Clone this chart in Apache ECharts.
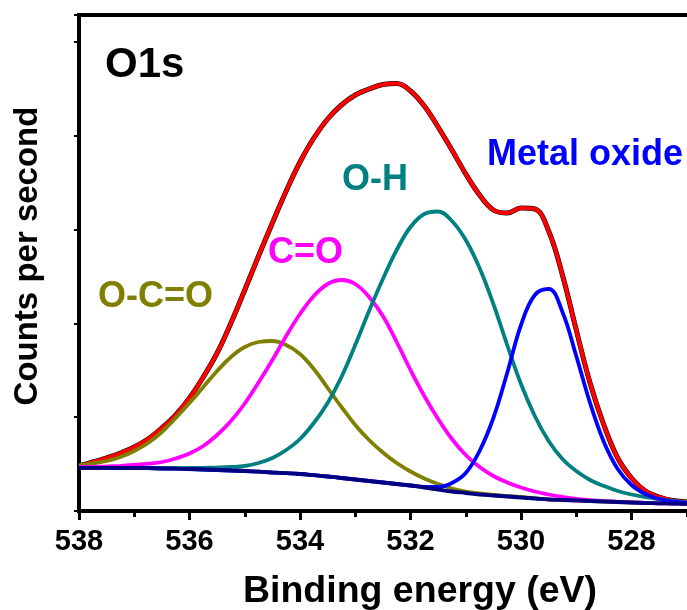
<!DOCTYPE html>
<html>
<head>
<meta charset="utf-8">
<script src="https://cdn.jsdelivr.net/npm/echarts@6/dist/echarts.min.js"></script>
<style>
html,body{margin:0;padding:0;background:#fff;}
#chart{width:687px;height:610px;}
</style>
</head>
<body>
<div id="chart"></div>
<script>
// Binding energy (eV)
const energy = [538, 537.75, 537.5, 537.25, 537, 536.75, 536.5, 536.25, 536, 535.75, 535.5, 535.25,
  535, 534.75, 534.5, 534.25, 534, 533.75, 533.5, 533.25, 533, 532.75, 532.5, 532.25,
  532, 531.75, 531.5, 531.25, 531, 530.75, 530.5, 530.25, 530, 529.75, 529.5, 529.25,
  529, 528.75, 528.5, 528.25, 528, 527.75, 527.5, 527.25, 527];
// intensities (a.u.)
const measured = [45, 49, 53, 58, 64, 72, 83, 96, 113, 134, 158, 188,
  221, 255, 288, 320, 349, 373, 392, 406, 416, 422, 426.5, 427.5,
  420, 405, 384, 361, 337, 316, 301, 298, 303, 302, 280, 236,
  181, 128, 86, 53, 33, 20, 14, 10.5, 9];
const envelope = measured.slice();
const oco = [45.5, 47.5, 50, 54, 60, 68, 79, 93, 108, 124, 140, 154,
  164, 169, 170, 166, 157, 142, 123, 104, 86, 71, 58.5, 48,
  39.5, 32.5, 27, 22.5, 19.5, 17.5, 16, 15, 14, 12.8, 11.7, 11.2,
  10.6, 10, 9.5, 9, 8.5, 8, 7.7, 7.4, 7];
const co = [44, 44.2, 44.6, 45.2, 46, 47.3, 49, 52.5, 57.5, 65, 76, 90,
  107.5, 128.5, 151, 175, 197, 215, 227, 231, 227, 214, 195, 169,
  141, 115, 92, 72, 56, 44, 35, 28.5, 23.5, 19.5, 16.5, 14,
  12, 10.8, 9.9, 9.2, 8.6, 8.1, 7.7, 7.4, 7];
const oh = [43, 43, 43, 43, 43, 43, 43, 43, 43, 43.2, 43.5, 44,
  45, 48, 53, 61, 72, 88, 108, 134, 166, 200, 232, 261,
  284, 297, 299.5, 290, 271, 243, 207, 166, 127, 95, 70, 52,
  40, 31, 25, 20, 16.5, 14, 12, 10, 8.5];
const metalOxide = [43, 43, 43, 43, 43, 42.8, 42.5, 42.3, 42, 41.5, 41, 40.5,
  40, 39.3, 38.5, 37.8, 37, 35.8, 34.5, 33, 31.5, 30, 28.5, 27,
  25.5, 24, 24, 28, 38, 60, 93, 138, 186, 216, 222, 199,
  155, 108, 69, 42, 26, 17, 12, 9.5, 8];
const background = [43, 43, 43, 43, 43, 42.8, 42.5, 42.3, 42, 41.5, 41, 40.5,
  40, 39.3, 38.5, 37.8, 37, 35.8, 34.5, 33, 31.5, 30, 28.5, 27,
  25.5, 23.5, 21.5, 19.5, 18, 16.5, 15.5, 14.5, 13.5, 12.5, 11.5, 11,
  10.5, 10, 9.5, 9, 8.5, 8, 7.7, 7.4, 7];
const xTicks = [538, 536, 534, 532, 530, 528];

function pairs(arr) { return energy.map((e, i) => [e, arr[i]]); }

const FONT = '"Liberation Sans", Arial, Helvetica, sans-serif';
function line(name, arr, color, width) {
  return {
    name: name, type: 'line', data: pairs(arr), showSymbol: false, smooth: 0.4,
    lineStyle: { color: color, width: width }, silent: true, clip: false
  };
}

const chart = echarts.init(document.getElementById('chart'), null, { renderer: 'canvas' });
chart.setOption({
  animation: false,
  backgroundColor: '#ffffff',
  grid: { left: 79, top: 15, width: 663, bottom: 99, containLabel: false, outerBoundsMode: 'none',
    show: true, borderColor: '#000', borderWidth: 4, backgroundColor: 'transparent' },
  xAxis: {
    type: 'value', min: 526, max: 538, interval: 2, inverse: true,
    axisLine: { show: false },
    axisTick: { show: true, inside: false, length: 9, lineStyle: { color: '#000', width: 3 } },
    minorTick: { show: true, splitNumber: 2, length: 6, lineStyle: { color: '#000', width: 3 } },
    splitLine: { show: false },
    axisLabel: {
      show: true, margin: 16, color: '#000', fontSize: 29, fontWeight: 'bold', fontFamily: FONT,
      formatter: function (v) { return xTicks.indexOf(v) >= 0 ? String(v) : ''; }
    }
  },
  yAxis: {
    type: 'value', min: 0, max: 496, interval: 93.8,
    axisLine: { show: false },
    axisTick: { show: true, inside: false, length: 5, lineStyle: { color: '#000', width: 2 } },
    axisLabel: { show: false },
    splitLine: { show: false }
  },
  series: [
    line('Measured', measured, '#000000', 5),
    line('Envelope', envelope, '#ff0000', 4),
    line('O-C=O', oco, '#808000', 3.8),
    line('C=O', co, '#ff00ff', 3.8),
    line('O-H', oh, '#008080', 3.8),
    line('Metal oxide', metalOxide, '#0000ff', 3.8),
    line('Background', background, '#000080', 3.8)
  ],
  graphic: [
    { type: 'text', x: 105, y: 65, style: { text: 'O1s', font: 'bold 42px ' + FONT, fill: '#000', textAlign: 'left', textVerticalAlign: 'middle' } },
    { type: 'text', x: 487, y: 155, style: { text: 'Metal oxide', font: 'bold 36px ' + FONT, fill: '#0000ff', textAlign: 'left', textVerticalAlign: 'middle' } },
    { type: 'text', x: 342, y: 180, style: { text: 'O-H', font: 'bold 36px ' + FONT, fill: '#008080', textAlign: 'left', textVerticalAlign: 'middle' } },
    { type: 'text', x: 268, y: 253, style: { text: 'C=O', font: 'bold 36px ' + FONT, fill: '#ff00ff', textAlign: 'left', textVerticalAlign: 'middle' } },
    { type: 'text', x: 98, y: 297, style: { text: 'O-C=O', font: 'bold 36px ' + FONT, fill: '#808000', textAlign: 'left', textVerticalAlign: 'middle' } },
    { type: 'text', x: 420, y: 592, style: { text: 'Binding energy (eV)', font: 'bold 37.5px ' + FONT, fill: '#000', textAlign: 'center', textVerticalAlign: 'middle' } },
    { type: 'text', x: 28, y: 256, rotation: Math.PI / 2, style: { text: 'Counts per second', font: 'bold 33px ' + FONT, fill: '#000', textAlign: 'center', textVerticalAlign: 'middle' } }
  ]
});
</script>
</body>
</html>
